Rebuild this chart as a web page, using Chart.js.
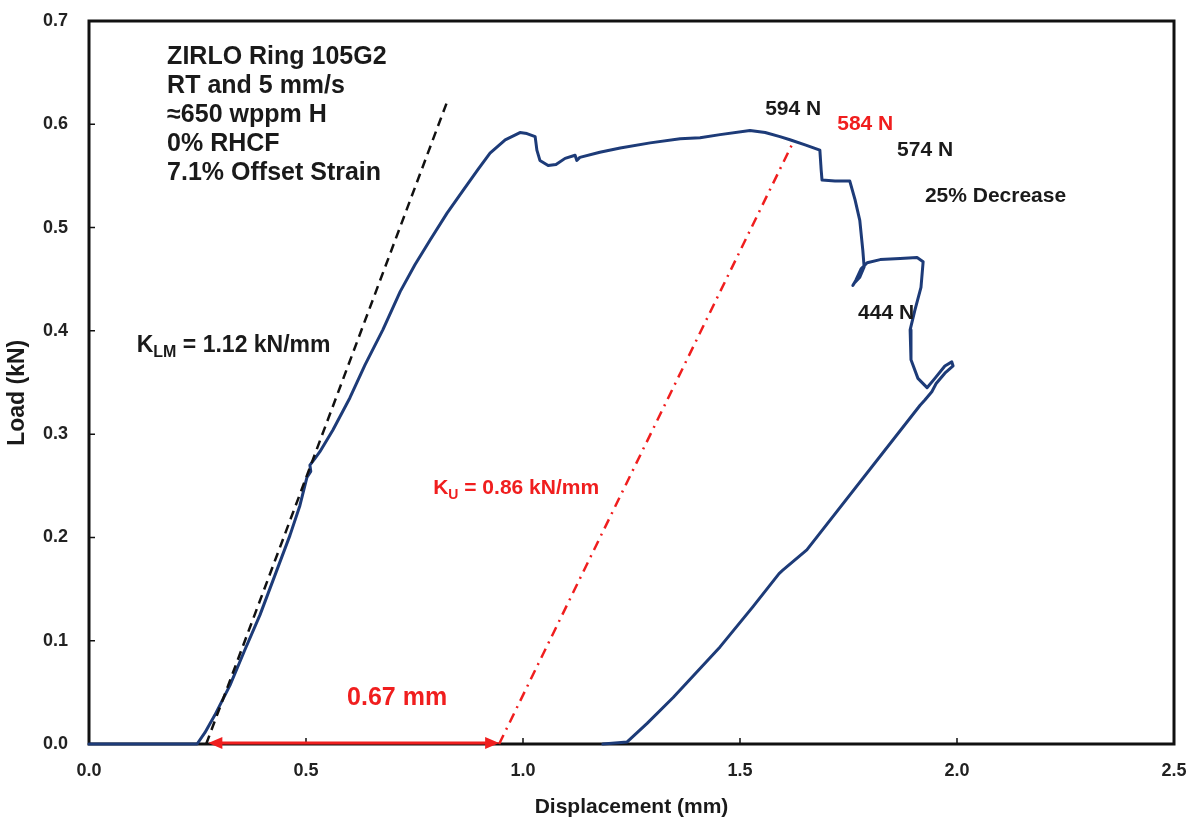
<!DOCTYPE html>
<html>
<head>
<meta charset="utf-8">
<script src="https://cdn.jsdelivr.net/npm/chart.js@4.4.1/dist/chart.umd.min.js"></script>
<style>
  html, body { margin: 0; padding: 0; background: #ffffff; }
  #wrap { width: 1193px; height: 830px; }
</style>
</head>
<body>
<div id="wrap"><canvas id="ringChart" width="1193" height="830"></canvas></div>
<script>
// Ring compression test: load vs. displacement record
const dispMm = [
  0, 0.249, 0.267, 0.290, 0.325, 0.359, 0.394, 0.429, 0.463, 0.486, 0.502, 0.511, 0.509, 0.520,
  0.532, 0.562, 0.601, 0.636, 0.677, 0.717, 0.751, 0.786, 0.825, 0.862, 0.896, 0.924, 0.959,
  0.993, 1.009, 1.028, 1.032, 1.039, 1.058, 1.076, 1.097, 1.120, 1.124, 1.131, 1.177, 1.224,
  1.293, 1.362, 1.408, 1.454, 1.523, 1.558, 1.592, 1.615, 1.650, 1.684, 1.687, 1.689, 1.719,
  1.753, 1.765, 1.776, 1.783, 1.786, 1.776, 1.763, 1.760, 1.767, 1.779, 1.793, 1.823, 1.869,
  1.908, 1.922, 1.917, 1.903, 1.892, 1.894, 1.910, 1.931, 1.949, 1.972, 1.988, 1.991, 1.972,
  1.952, 1.942, 1.926, 1.915, 1.654, 1.598, 1.590, 1.530, 1.454, 1.346, 1.286, 1.240, 1.184
];
const loadKn = [
  0, 0, 0.011, 0.028, 0.057, 0.091, 0.125, 0.164, 0.202, 0.231, 0.258, 0.264, 0.270, 0.276,
  0.283, 0.304, 0.335, 0.367, 0.401, 0.438, 0.464, 0.488, 0.514, 0.536, 0.556, 0.572, 0.585,
  0.592, 0.591, 0.588, 0.575, 0.565, 0.560, 0.561, 0.567, 0.570, 0.565, 0.568, 0.573, 0.577,
  0.582, 0.586, 0.587, 0.590, 0.594, 0.592, 0.588, 0.585, 0.580, 0.575, 0.556, 0.546, 0.545,
  0.545, 0.527, 0.507, 0.478, 0.462, 0.452, 0.446, 0.444, 0.449, 0.460, 0.466, 0.469, 0.470,
  0.471, 0.467, 0.442, 0.420, 0.401, 0.372, 0.354, 0.345, 0.354, 0.366, 0.370, 0.366, 0.359,
  0.349, 0.341, 0.333, 0.328, 0.188, 0.168, 0.165, 0.133, 0.094, 0.045, 0.020, 0.002, 0
];

// Axis ticks
const xTickValues = [0.0, 0.5, 1.0, 1.5, 2.0, 2.5];
const yTickValues = [0.0, 0.1, 0.2, 0.3, 0.4, 0.5, 0.6, 0.7];

// Loading stiffness line (K_LM) and unloading offset line (K_U)
const kLM = 1.12;           // kN/mm
const kLMFrom = 0.27;       // mm, where the line leaves the axis
const kLMTo = 0.824;        // mm
const kU = 0.86;            // kN/mm
const offsetLoad = 0.584;   // kN, load where the offset line meets the curve
const offsetSpan = [0.275, 0.945]; // mm, 0.67 mm offset displacement

const stiffLine = [
  { x: kLMFrom, y: 0 },
  { x: kLMTo, y: kLM * (kLMTo - kLMFrom) }
];
const offsetLine = [
  { x: offsetSpan[1], y: 0 },
  { x: offsetSpan[1] + offsetLoad / kU, y: offsetLoad }
];
const curve = dispMm.map((d, i) => ({ x: d, y: loadKn[i] }));

const FONT = '"Liberation Sans", Arial, Helvetica, sans-serif';
const RED = '#f01e1e';
const INK = '#1a1a1a';

// Text placed at data coordinates (left edge, vertical centre)
const notes = [
  { x: 0.180, y: 0.665, size: 25, color: INK, lines: [
      'ZIRLO Ring 105G2', 'RT and 5 mm/s', '\u2248650 wppm H', '0% RHCF', '7.1% Offset Strain'
    ], lineGap: 29 },
  { x: 1.558, y: 0.615, size: 21, color: INK, lines: ['594 N'] },
  { x: 1.724, y: 0.600, size: 21, color: RED, lines: ['584 N'] },
  { x: 1.862, y: 0.575, size: 21, color: INK, lines: ['574 N'] },
  { x: 1.926, y: 0.530, size: 21, color: INK, lines: ['25% Decrease'] },
  { x: 1.772, y: 0.417, size: 21, color: INK, lines: ['444 N'] }
];
const stiffNotes = [
  { x: 0.110, y: 0.386, size: 23, color: INK, base: 'K', sub: 'LM', rest: ' = ' + kLM.toFixed(2) + ' kN/mm' },
  { x: 0.793, y: 0.248, size: 21, color: RED, base: 'K', sub: 'U', rest: ' = ' + kU.toFixed(2) + ' kN/mm' }
];
const spanNote = { x: 0.710, y: 0.044, text: (offsetSpan[1] - offsetSpan[0]).toFixed(2) + ' mm' };
const yTitle = { text: 'Load (kN)', load: 0.34 };

// Boxed frame with short inward tick marks
const framePlugin = {
  id: 'frame',
  beforeDatasetsDraw(chart) {
    const { ctx, chartArea: a, scales } = chart;
    ctx.save();
    ctx.strokeStyle = '#111111';
    ctx.lineWidth = 3;
    ctx.strokeRect(a.left, a.top, a.right - a.left, a.bottom - a.top);
    ctx.lineWidth = 1.5;
    ctx.beginPath();
    xTickValues.slice(1, -1).forEach(v => {
      const px = scales.x.getPixelForValue(v);
      ctx.moveTo(px, a.bottom);
      ctx.lineTo(px, a.bottom - 6);
    });
    yTickValues.slice(1, -1).forEach(v => {
      const py = scales.y.getPixelForValue(v);
      ctx.moveTo(a.left, py);
      ctx.lineTo(a.left + 6, py);
    });
    ctx.stroke();

    // vertical axis title
    ctx.translate(18, scales.y.getPixelForValue(yTitle.load));
    ctx.rotate(-Math.PI / 2);
    ctx.font = 'bold 23px ' + FONT;
    ctx.fillStyle = INK;
    ctx.textAlign = 'center';
    ctx.textBaseline = 'middle';
    ctx.fillText(yTitle.text, 0, 0);
    ctx.restore();
  }
};

// Offset arrow and text notes
const notesPlugin = {
  id: 'notes',
  afterDatasetsDraw(chart) {
    const { ctx, scales } = chart;
    const X = v => scales.x.getPixelForValue(v);
    const Y = v => scales.y.getPixelForValue(v);
    ctx.save();

    // double-headed arrow along the displacement axis
    const x1 = X(offsetSpan[0]), x2 = X(offsetSpan[1]), ay = Y(0) - 1;
    ctx.strokeStyle = RED;
    ctx.fillStyle = RED;
    ctx.lineWidth = 3;
    ctx.beginPath();
    ctx.moveTo(x1 + 10, ay);
    ctx.lineTo(x2 - 10, ay);
    ctx.stroke();
    ctx.beginPath();
    ctx.moveTo(x1, ay); ctx.lineTo(x1 + 14, ay - 6); ctx.lineTo(x1 + 14, ay + 6); ctx.closePath();
    ctx.moveTo(x2, ay); ctx.lineTo(x2 - 14, ay - 6); ctx.lineTo(x2 - 14, ay + 6); ctx.closePath();
    ctx.fill();

    ctx.textBaseline = 'middle';
    ctx.textAlign = 'left';
    notes.forEach(n => {
      ctx.font = 'bold ' + n.size + 'px ' + FONT;
      ctx.fillStyle = n.color;
      n.lines.forEach((t, i) => ctx.fillText(t, X(n.x), Y(n.y) + i * (n.lineGap || 0)));
    });

    stiffNotes.forEach(n => {
      let px = X(n.x);
      const py = Y(n.y);
      const sub = Math.round(n.size * 0.68);
      ctx.fillStyle = n.color;
      ctx.font = 'bold ' + n.size + 'px ' + FONT;
      ctx.fillText(n.base, px, py);
      px += ctx.measureText(n.base).width;
      ctx.font = 'bold ' + sub + 'px ' + FONT;
      ctx.fillText(n.sub, px, py + 7);
      px += ctx.measureText(n.sub).width;
      ctx.font = 'bold ' + n.size + 'px ' + FONT;
      ctx.fillText(n.rest, px, py);
    });

    ctx.font = 'bold 25px ' + FONT;
    ctx.fillStyle = RED;
    ctx.textAlign = 'center';
    ctx.fillText(spanNote.text, X(spanNote.x), Y(spanNote.y));
    ctx.restore();
  }
};

new Chart(document.getElementById('ringChart'), {
  type: 'scatter',
  data: {
    datasets: [
      {
        label: 'K_LM',
        data: stiffLine,
        showLine: true,
        borderColor: '#111111',
        borderWidth: 2.5,
        borderDash: [9, 6],
        pointRadius: 0,
        clip: false
      },
      {
        label: 'K_U',
        data: offsetLine,
        showLine: true,
        borderColor: RED,
        borderWidth: 2.5,
        borderDash: [10, 6, 2, 6],
        pointRadius: 0,
        clip: false
      },
      {
        label: 'Load',
        data: curve,
        showLine: true,
        borderColor: '#1d3b78',
        borderWidth: 3,
        tension: 0,
        pointRadius: 0,
        borderJoinStyle: 'round',
        borderCapStyle: 'round',
        clip: false
      }
    ]
  },
  options: {
    responsive: false,
    animation: false,
    devicePixelRatio: 1,
    layout: { padding: { left: 0, top: 21, right: 19, bottom: 0 } },
    plugins: { legend: { display: false }, tooltip: { enabled: false } },
    scales: {
      x: {
        type: 'linear',
        min: 0, max: 2.5,
        afterBuildTicks: s => { s.ticks = xTickValues.map(v => ({ value: v })); },
        afterFit: s => { s.height = 86; s.paddingLeft = 0; s.paddingRight = 0; },
        grid: { display: false, drawTicks: false },
        border: { display: false },
        ticks: {
          padding: 16,
          color: '#222222',
          font: { family: FONT, size: 18, weight: 'bold' },
          callback: v => Number(v).toFixed(1)
        },
        title: {
          display: true,
          text: 'Displacement (mm)',
          color: '#1a1a1a',
          font: { family: FONT, size: 21, weight: 'bold' },
          padding: { top: 0, bottom: 10 }
        }
      },
      y: {
        type: 'linear',
        min: 0, max: 0.7,
        afterBuildTicks: s => { s.ticks = yTickValues.map(v => ({ value: v })); },
        afterFit: s => { s.width = 89; s.paddingTop = 0; s.paddingBottom = 0; },
        grid: { display: false, drawTicks: false },
        border: { display: false },
        ticks: {
          padding: 21,
          color: '#222222',
          font: { family: FONT, size: 18, weight: 'bold' },
          callback: v => Number(v).toFixed(1)
        },
        title: { display: false }
      }
    }
  },
  plugins: [framePlugin, notesPlugin]
});
</script>
</body>
</html>
